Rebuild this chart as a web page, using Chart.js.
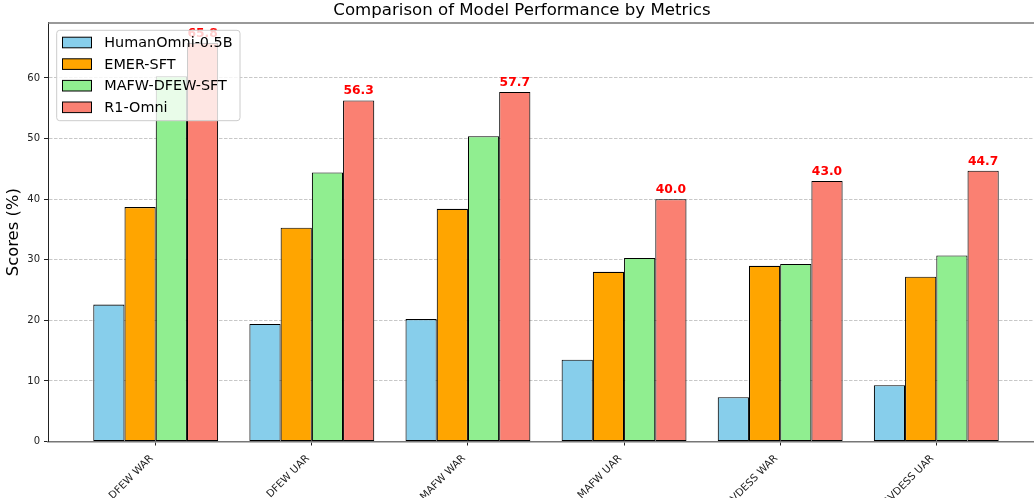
<!DOCTYPE html>
<html>
<head>
<meta charset="utf-8">
<script src="https://cdn.jsdelivr.net/npm/chart.js@4.4.1/dist/chart.umd.min.js"></script>
<style>
    html, body { margin: 0; padding: 0; overflow: hidden; background: #fff; width: 1034px; height: 498px; }
    canvas { display: block; }
</style>
</head>
<body>
<canvas id="barChart" width="1092" height="600"></canvas>
<script>
const metrics = ['DFEW WAR', 'DFEW UAR', 'MAFW WAR', 'MAFW UAR', 'RAVDESS WAR', 'RAVDESS UAR']
const modelNames = ['HumanOmni-0.5B', 'EMER-SFT', 'MAFW-DFEW-SFT', 'R1-Omni']
const humanOmni = [22.6, 19.4, 20.2, 13.5, 7.3, 9.3]
const emerSft = [38.7, 35.3, 38.4, 28.0, 29.0, 27.2]
const mafwDfewSft = [60.3, 44.4, 50.4, 30.3, 29.3, 30.7]
const r1Omni = [65.8, 56.3, 57.7, 40.0, 43.0, 44.7]

const colors = ['#87CEEB', '#FFA500', '#90EE90', '#FA8072']
const FONT = '"DejaVu Sans", sans-serif'

// matplotlib-like limits: 5% margin on both axes
const yMax = Math.max(...r1Omni) * 1.05
const xMin = -0.4 - 0.05 * (metrics.length - 0.2)
const xMax = metrics.length - 0.6 + 0.05 * (metrics.length - 0.2)

const series = [humanOmni, emerSft, mafwDfewSft, r1Omni]

const datasets = series.map((values, k) => ({
    label: modelNames[k],
    data: values.map((v, i) => ({ x: i, y: v })),
    backgroundColor: colors[k],
    borderColor: '#000',
    borderWidth: 1.1,
    borderSkipped: false,
    categoryPercentage: 0.8,
    barPercentage: 1.0,
}))

// value labels on R1-Omni, top spine and the legend (drawn over the bars)
const overlay = {
    id: 'overlay',
    afterDatasetsDraw(chart) {
        const ctx = chart.ctx
        const area = chart.chartArea
        ctx.save()

        const meta = chart.getDatasetMeta(3)
        ctx.font = 'bold 12.3px ' + FONT
        ctx.fillStyle = '#ff0000'
        ctx.textAlign = 'center'
        ctx.textBaseline = 'alphabetic'
        meta.data.forEach((bar, i) => {
            ctx.fillText(r1Omni[i].toFixed(1), bar.x, bar.y - 6)
        })

        ctx.strokeStyle = '#777'
        ctx.lineWidth = 1.5
        ctx.beginPath()
        ctx.moveTo(area.left, area.top)
        ctx.lineTo(area.right, area.top)
        ctx.stroke()

        // legend box
        const bx = 56.7, by = 30.3, bw = 183.3, bh = 90.4, r = 3
        ctx.beginPath()
        ctx.moveTo(bx + r, by)
        ctx.lineTo(bx + bw - r, by)
        ctx.arcTo(bx + bw, by, bx + bw, by + r, r)
        ctx.lineTo(bx + bw, by + bh - r)
        ctx.arcTo(bx + bw, by + bh, bx + bw - r, by + bh, r)
        ctx.lineTo(bx + r, by + bh)
        ctx.arcTo(bx, by + bh, bx, by + bh - r, r)
        ctx.lineTo(bx, by + r)
        ctx.arcTo(bx, by, bx + r, by, r)
        ctx.closePath()
        ctx.fillStyle = 'rgba(255,255,255,0.8)'
        ctx.fill()
        ctx.strokeStyle = '#cccccc'
        ctx.lineWidth = 1
        ctx.stroke()

        ctx.font = '14.4px ' + FONT
        ctx.textAlign = 'left'
        ctx.textBaseline = 'middle'
        chart.data.datasets.forEach((ds, k) => {
            const cy = 42.5 + k * 21.6
            ctx.fillStyle = ds.backgroundColor
            ctx.fillRect(62.5, cy - 5.3, 29, 10.6)
            ctx.strokeStyle = '#000'
            ctx.lineWidth = 1
            ctx.strokeRect(62.5, cy - 5.3, 29, 10.6)
            ctx.fillStyle = '#000'
            ctx.fillText(ds.label, 104.3, cy + 1)
        })
        ctx.restore()
    },
}

new Chart(document.getElementById('barChart'), {
    type: 'bar',
    data: { datasets: datasets },
    options: {
        responsive: false,
        animation: false,
        events: [],
        layout: { padding: { left: 0, right: 48, top: 0, bottom: 0 } },
        plugins: {
            legend: { display: false },
            tooltip: { enabled: false },
            title: {
                display: true,
                text: 'Comparison of Model Performance by Metrics',
                color: '#000',
                font: { family: FONT, size: 16.6, weight: 'normal' },
                padding: { top: 1, bottom: 2 },
            },
        },
        scales: {
            x: {
                type: 'linear',
                offset: false,
                min: xMin,
                max: xMax,
                afterFit: (scale) => { scale.height = 600 - 441.5 },
                grid: {
                    offset: false,
                    drawOnChartArea: false,
                    drawTicks: true,
                    tickLength: 4,
                    tickColor: '#222',
                },
                border: { display: true, color: '#777', width: 1.5 },
                ticks: {
                    stepSize: 1,
                    includeBounds: false,
                    autoSkip: false,
                    maxRotation: 45,
                    minRotation: 45,
                    padding: 7,
                    labelOffset: -4,
                    color: '#222',
                    font: { family: FONT, size: 10.3 },
                    callback: (value) => metrics[value] ?? '',
                },
            },
            y: {
                min: 0,
                max: yMax,
                afterFit: (scale) => { scale.width = 48 },
                grid: {
                    color: 'rgba(176,176,176,0.7)',
                    lineWidth: 1,
                    tickLength: 4,
                    tickColor: '#222',
                    tickBorderDash: [],
                },
                border: { display: true, color: '#222', width: 1, dash: [3.5, 1.5] },
                ticks: {
                    stepSize: 10,
                    includeBounds: false,
                    padding: 4,
                    color: '#222',
                    font: { family: FONT, size: 10 },
                },
                title: {
                    display: true,
                    text: 'Scores (%)',
                    color: '#000',
                    font: { family: FONT, size: 16.4 },
                    padding: { top: 4, bottom: 4 },
                },
            },
        },
    },
    plugins: [overlay],
})
</script>
</body>
</html>
